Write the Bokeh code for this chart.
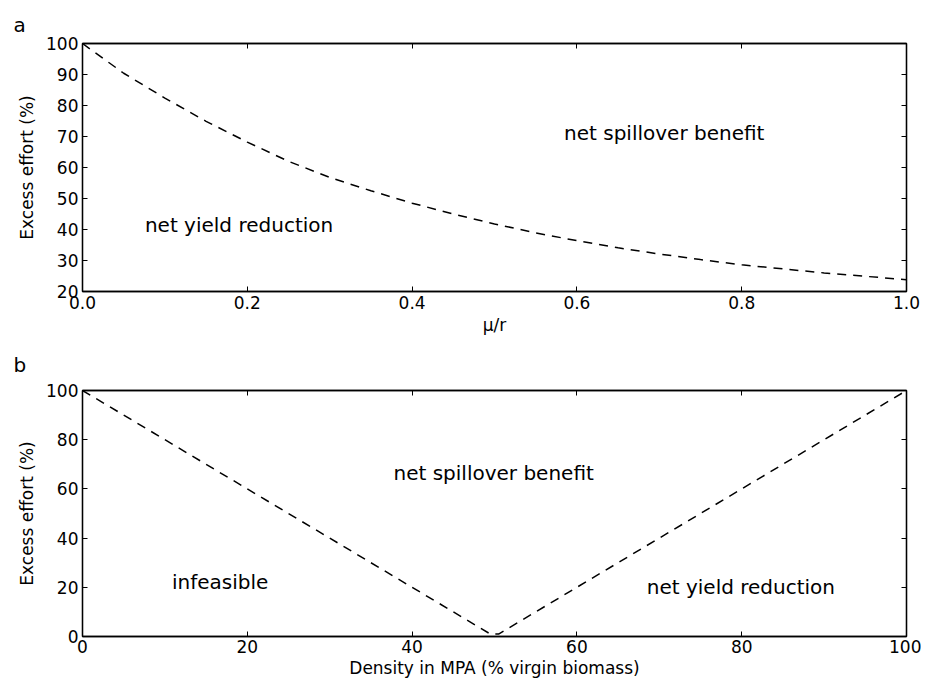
from bokeh.plotting import figure
from bokeh.models import Range1d, LinearAxis, FixedTicker, PrintfTickFormatter, CustomJSTickFormatter, Label
from bokeh.layouts import column
from bokeh.embed import file_html
from bokeh.resources import INLINE

FONT = "DejaVu Sans"

# Panel a data
mu_r = [0.0, 0.05, 0.1, 0.15, 0.2, 0.25, 0.3, 0.35, 0.4, 0.45, 0.5,
        0.55, 0.6, 0.65, 0.7, 0.75, 0.8, 0.85, 0.9, 0.95, 1.0]
effort_a = [100.0, 90.4, 82.4, 74.9, 68.2, 62.0, 56.8, 52.5, 48.5, 45.0, 41.8,
            38.9, 36.4, 34.1, 32.1, 30.3, 28.6, 27.3, 26.0, 24.9, 23.8]
xticks_a = [0.0, 0.2, 0.4, 0.6, 0.8, 1.0]
yticks_a = [20, 30, 40, 50, 60, 70, 80, 90, 100]

# Panel b data
density = [0.0, 49.5, 50.5, 100.0]
effort_b = [100.0, 1.0, 1.0, 100.0]
xticks_b = [0, 20, 40, 60, 80, 100]
yticks_b = [0, 20, 40, 60, 80, 100]

# Region annotations
labels_a = [("net yield reduction", 0.19, 41.5), ("net spillover benefit", 0.706, 71.0)]
labels_b = [("net spillover benefit", 49.9, 66.3), ("infeasible", 16.7, 22.2),
            ("net yield reduction", 79.9, 20.0)]


def style_axis(ax, ticks, fmt, show_labels=True, label_standoff=4, axis_standoff=6):
    ax.ticker = FixedTicker(ticks=ticks)
    ax.minor_tick_line_color = None
    ax.major_tick_in = 5
    ax.major_tick_out = 0
    ax.major_tick_line_color = "black"
    ax.major_tick_line_width = 1
    ax.axis_line_color = "black"
    ax.axis_line_width = 1.3
    ax.major_label_text_font = FONT
    ax.major_label_text_font_size = "17px"
    ax.major_label_text_color = "black"
    ax.major_label_standoff = label_standoff
    ax.axis_label_text_font = FONT
    ax.axis_label_text_font_size = "17px"
    ax.axis_label_text_font_style = "normal"
    ax.axis_label_text_color = "black"
    ax.axis_label_standoff = axis_standoff
    if show_labels:
        if fmt is not None:
            ax.formatter = fmt
    else:
        ax.formatter = CustomJSTickFormatter(code="return ''")


def make_panel(xs, ys, xr, yr, xt, yt, xfmt, xlabel, anns, letter, fh, height, top, bottom,
               title_standoff, x_lab_standoff, x_axis_standoff):
    p = figure(frame_width=824, frame_height=fh,
               height=height, output_backend="svg", toolbar_location=None,
               x_range=Range1d(*xr), y_range=Range1d(*yr),
               min_border_left=82, min_border_right=15,
               min_border_top=top, min_border_bottom=bottom)
    p.xgrid.visible = False
    p.ygrid.visible = False
    p.outline_line_color = "black"
    p.outline_line_width = 1.3
    p.background_fill_color = "white"
    p.border_fill_color = "white"

    p.title.text = letter
    p.title.align = "left"
    p.title.vertical_align = "top"
    p.title.offset = -69
    p.title.standoff = title_standoff
    p.title.text_font = FONT
    p.title.text_font_size = "20px"
    p.title.text_font_style = "normal"
    p.title.text_color = "black"

    style_axis(p.xaxis[0], xt, xfmt, label_standoff=x_lab_standoff, axis_standoff=x_axis_standoff)
    style_axis(p.yaxis[0], yt, None)
    p.xaxis[0].axis_label = xlabel
    p.yaxis[0].axis_label = "Excess effort (%)"

    top_ax = LinearAxis()
    style_axis(top_ax, xt, None, show_labels=False)
    p.add_layout(top_ax, "above")
    right_ax = LinearAxis()
    style_axis(right_ax, yt, None, show_labels=False)
    p.add_layout(right_ax, "right")

    p.line(xs, ys, line_color="black", line_width=1.5, line_dash="9 7")

    for txt, x, y in anns:
        p.add_layout(Label(x=x, y=y, text=txt, text_font=FONT, text_font_size="20px",
                           text_align="center", text_baseline="middle", text_color="black"))
    return p


pa = make_panel(mu_r, effort_a, (0.0, 1.0), (20, 100), xticks_a, yticks_a,
                PrintfTickFormatter(format="%.1f"), "\u03bc/r", labels_a, "a",
                248, 338, 43, 47, 10, 4, 3)
pb = make_panel(density, effort_b, (0, 100), (0, 100), xticks_b, yticks_b,
                None, "Density in MPA (% virgin biomass)", labels_b, "b",
                246, 343, 52, 45, 24, 3, 2)

layout = column(pa, pb, spacing=0)
open("out.html", "w").write(file_html(layout, INLINE))
